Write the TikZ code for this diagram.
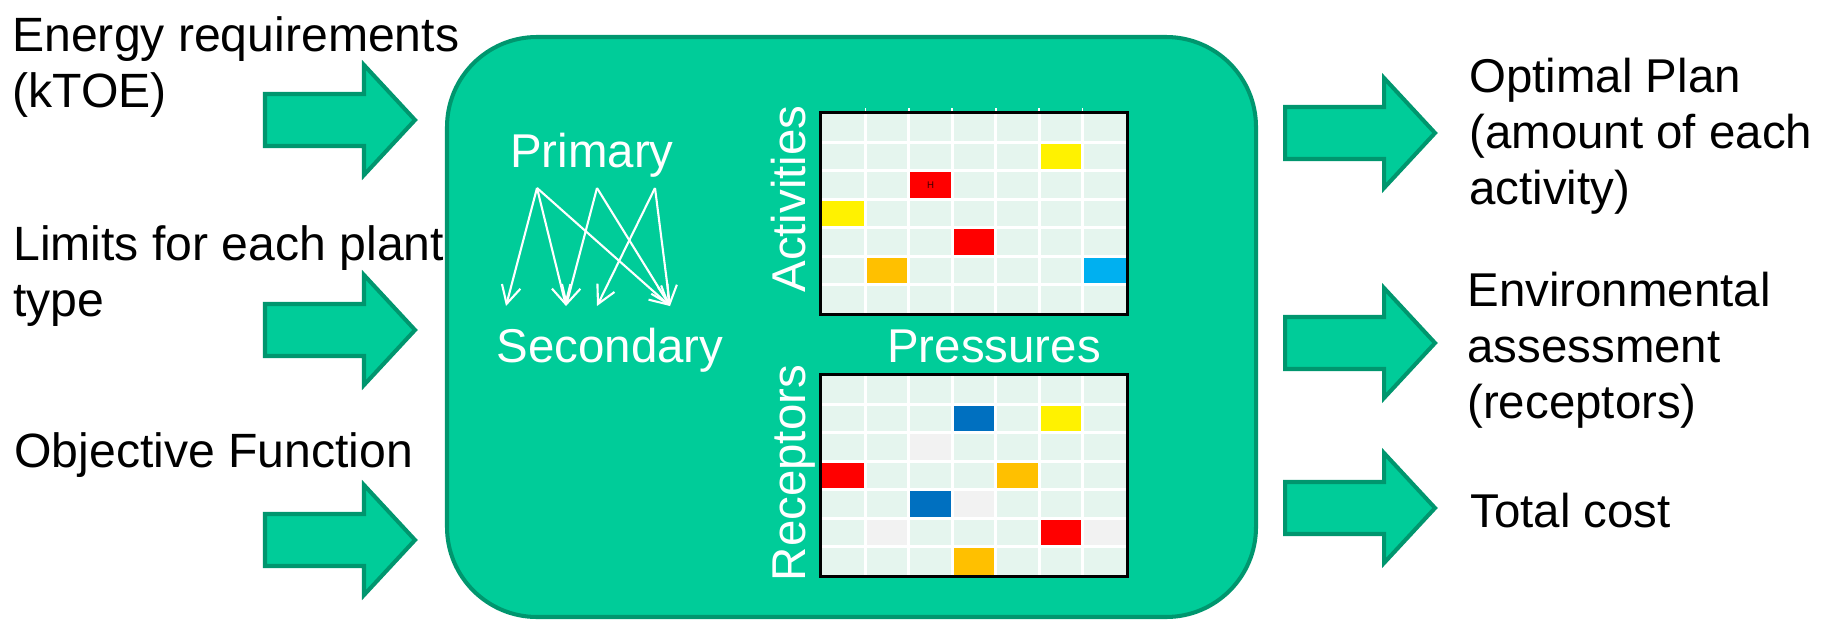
\documentclass[tikz,border=0pt]{standalone}
\usepackage{fontspec}
\setmainfont{Liberation Sans}
\usetikzlibrary{arrows.meta}

\definecolor{boxgreen}{RGB}{0,204,153}
\definecolor{edgegreen}{RGB}{0,150,110}
\definecolor{cellbg}{RGB}{229,245,238}
\definecolor{cellgray}{RGB}{242,242,242}
\definecolor{cellorange}{RGB}{255,192,0}
\definecolor{cellcyan}{RGB}{0,176,240}
\definecolor{cellblue}{RGB}{0,112,192}

\tikzset{
  sidetext/.style={align=left,anchor=base west,inner sep=0pt,
    font=\fontsize{27}{31.75}\selectfont},
  intext/.style={text=white,anchor=base,inner sep=0pt,
    font=\fontsize{27}{31.75}\selectfont},
  arrowbox/.style={fill=boxgreen,draw=edgegreen,line width=2.3pt,miter limit=20},
  link/.style={white,line width=1.2pt,-{Straight Barb[length=0.36cm,width=0.38cm]}},
  gridline/.style={white,line width=1.7pt},
  bigarrow/.pic={
    \draw[arrowbox] (-150,-26) -- (-51,-26) -- (-51,-55) -- (0,0)
      -- (-51,55) -- (-51,26) -- (-150,26) -- cycle;
  }
}

\begin{document}
\begin{tikzpicture}[x=0.02cm,y=-0.02cm]
\useasboundingbox (0,0) rectangle (1834,622);

% Inputs (base = last line)
\node[sidetext,font=\fontsize{27.4}{31.75}\selectfont] (energy) at (12,107) {Energy requirements\\(kTOE)};
\node[sidetext,font=\fontsize{27.4}{31.75}\selectfont] (limits) at (13,316) {Limits for each plant\\type};
\node[sidetext,font=\fontsize{27.4}{31.75}\selectfont] (objective) at (14,467) {Objective Function};
\foreach \y in {120,330,540}
  \pic at (415,\y) {bigarrow};

% Model
\draw[fill=boxgreen,draw=edgegreen,line width=2.3pt,rounded corners=1.8cm]
  (447,37) rectangle (1256,617);

\node[intext] (primary) at (592,167) {Primary};
\node[intext] (secondary) at (610,362) {Secondary};
\coordinate (p1) at (537,188);
\coordinate (p2) at (597,188);
\coordinate (p3) at (655,188);
\coordinate (s1) at (506,306);
\coordinate (s2) at (566,306);
\coordinate (s3) at (597,306);
\coordinate (s4) at (670,306);
\foreach \a/\b in {p1/s1,p1/s2,p1/s4,p2/s2,p2/s4,p3/s3,p3/s4}
  \draw[link] (\a) -- (\b);

\node[intext,rotate=90] (activities) at (805,199) {Activities};
\node[intext,rotate=90] (receptors) at (805,473) {Receptors};
\node[intext] (pressures) at (994,362) {Pressures};

% Activities x pressures
\begin{scope}[shift={(822,114)}]
\fill[cellbg] (0,0) rectangle (304,199);
\foreach \r/\c/\col in {1/5/yellow,2/2/red,3/0/yellow,4/3/red,5/1/cellorange,5/6/cellcyan}
  \fill[\col] (\c*43.43,\r*28.43) rectangle ++(43.43,28.43);
\foreach \k in {1,...,6} {
  \draw[gridline] (\k*43.43,0) -- (\k*43.43,199);
  \draw[gridline] (0,\k*28.43) -- (304,\k*28.43);
  \draw[white,line width=1pt] (\k*43.43,-6) -- (\k*43.43,-3);
}
\node[font=\fontsize{5.5}{6}\selectfont,text=black!75!red,inner sep=0pt] (hmark)
  at (2.5*43.43,2.5*28.43) {H};
\draw[line width=1.7pt] (-1.5,-1.5) rectangle (305.5,200.5);
\end{scope}

% Receptors x pressures
\begin{scope}[shift={(822,376)}]
\fill[cellbg] (0,0) rectangle (304,199);
\foreach \r/\c/\col in {1/3/cellblue,1/5/yellow,2/2/cellgray,3/0/red,3/4/cellorange,
    4/2/cellblue,4/3/cellgray,5/1/cellgray,5/5/red,5/6/cellgray,6/3/cellorange}
  \fill[\col] (\c*43.43,\r*28.43) rectangle ++(43.43,28.43);
\foreach \k in {1,...,6} {
  \draw[gridline] (\k*43.43,0) -- (\k*43.43,199);
  \draw[gridline] (0,\k*28.43) -- (304,\k*28.43);
}
\draw[line width=1.7pt] (-1.5,-1.5) rectangle (305.5,200.5);
\end{scope}

% Outputs (base = last line)
\foreach \y in {133,343,508}
  \pic at (1435,\y) {bigarrow};
\node[sidetext] (plan) at (1469,204) {Optimal Plan\\(amount of each\\activity)};
\node[sidetext] (assess) at (1467,418) {Environmental\\assessment\\(receptors)};
\node[sidetext] (cost) at (1470,527) {Total cost};

\end{tikzpicture}
\end{document}
